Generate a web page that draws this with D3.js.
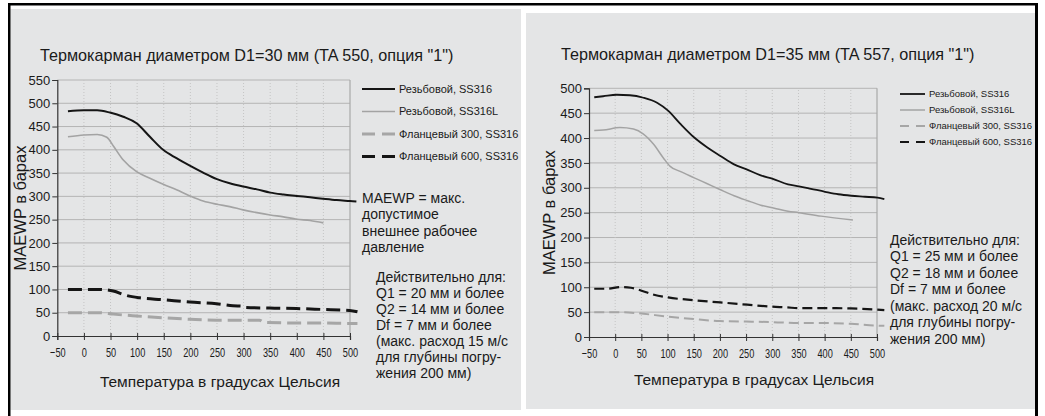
<!DOCTYPE html>
<html>
<head>
<meta charset="utf-8">
<script src="https://cdn.jsdelivr.net/npm/d3@7"></script>
<style>
  body { margin: 0; background: #fff; }
  svg { display: block; font-family: "Liberation Sans", Arial, sans-serif; }
  text { fill: #1a1a1a; }
</style>
</head>
<body>
<svg id="chart" width="1045" height="416"></svg>
<script>
// temperature ticks, same for both charts
const xTicks = [-50, 0, 50, 100, 150, 200, 250, 300, 350, 400, 450, 500];
const yTicksLeft = [0, 50, 100, 150, 200, 250, 300, 350, 400, 450, 500, 550];
const yTicksRight = [0, 50, 100, 150, 200, 250, 300, 350, 400, 450, 500];

const seriesNames = ["Резьбовой, SS316", "Резьбовой, SS316L", "Фланцевый 300, SS316", "Фланцевый 600, SS316"];

// D1 = 30 mm, [temperature, MAEWP]
const left316 = [[-30, 483], [0, 485], [25, 485], [49, 480], [74, 471], [99, 457], [124, 428], [149, 400],
  [174, 382], [199, 366], [224, 351], [250, 337], [274, 328], [299, 321], [325, 315], [350, 308],
  [375, 304], [400, 301], [425, 298], [449, 295], [475, 292], [500, 290], [512, 289]];
const left316L = [[-30, 428], [0, 432], [25, 433], [43, 427], [56, 407], [74, 378], [99, 353], [124, 339],
  [149, 326], [174, 314], [199, 301], [224, 290], [250, 283], [274, 278], [299, 271], [325, 265],
  [350, 260], [375, 256], [400, 251], [425, 248], [450, 243]];
const leftFl300 = [[-30, 50], [30, 50], [55, 47], [99, 43], [149, 39], [199, 36], [249, 34], [330, 34],
  [339, 29], [399, 28], [449, 28], [499, 27], [514, 27]];
const leftFl600 = [[-30, 100], [30, 100], [55, 96.5], [80, 87], [105, 82], [149, 78], [199, 73], [249, 69.5],
  [280, 65], [299, 64], [305, 61], [349, 60], [399, 59], [449, 57], [499, 55], [514, 52]];

// D1 = 35 mm
const right316 = [[-40, 482], [-23, 484], [3, 487], [28, 486], [54, 481], [80, 471], [101, 455], [124, 429],
  [151, 401], [176, 381], [201, 364], [227, 347], [251, 337], [278, 325], [301, 318], [330, 307],
  [351, 303], [374, 298], [401, 292], [426, 287], [451, 284], [477, 282], [501, 280], [514, 277]];
const right316L = [[-40, 415], [-23, 416], [9, 421], [35, 418], [54, 408], [73, 388], [92, 360], [105, 343],
  [124, 333], [151, 320], [176, 308], [201, 296], [227, 284], [253, 274], [278, 265], [304, 259],
  [330, 253], [351, 250], [393, 243], [454, 235]];
const rightFl300 = [[-40, 50], [10, 50], [42, 48], [100, 41], [150, 36], [200, 32], [250, 31], [300, 30],
  [350, 28], [400, 28], [450, 26.5], [500, 23], [514, 22.5]];
const rightFl600 = [[-40, 97], [-15, 97], [10, 100.5], [30, 99], [42, 96], [74, 85], [101, 79.5], [150, 74],
  [201, 69.5], [252, 65], [300, 61], [329, 59.5], [350, 58], [400, 58], [450, 57.5], [500, 55], [514, 54]];

const leftNotes = ["MAEWP = макс.", "допустимое", "внешнее рабочее", "давление"];
const leftValid = ["Действительно для:", "Q1 = 20 мм и более", "Q2 = 14 мм и более", "Df = 7 мм и более",
  "(макс. расход 15 м/с", "для глубины погру-", "жения 200 мм)"];
const rightValid = ["Действительно для:", "Q1 = 25 мм и более", "Q2 = 18 мм и более", "Df = 7 мм и более",
  "(макс. расход 20 м/с", "для глубины погру-", "жения 200 мм)"];

const svg = d3.select("#chart");

// frame and panel backgrounds
svg.append("rect").attr("x", 10.5).attr("y", 9).attr("width", 510.5).attr("height", 401).attr("fill", "#e4e5e6");
svg.append("rect").attr("x", 526).attr("y", 13).attr("width", 509).attr("height", 396).attr("fill", "#e4e5e6");
svg.append("rect").attr("x", 8).attr("y", 3).attr("width", 1030).attr("height", 2.5).attr("fill", "#000");
svg.append("rect").attr("x", 8).attr("y", 3).attr("width", 2.5).attr("height", 413).attr("fill", "#000");
svg.append("rect").attr("x", 1035).attr("y", 3).attr("width", 3).attr("height", 413).attr("fill", "#000");

const drawPanel = function (p) {
    const g = svg.append("g");
    const x = d3.scaleLinear([-50, 500], [p.x0, p.x1]);
    const y = d3.scaleLinear([0, p.yMax], [p.y0, p.y1]);

    // grid
    g.selectAll("line.hgrid").data(p.yTicks.filter(d => d > 0)).enter().append("line")
        .attr("x1", p.x0).attr("x2", p.x1)
        .attr("y1", d => y(d)).attr("y2", d => y(d))
        .attr("stroke", "#b4b4b4").attr("stroke-width", 1);
    g.selectAll("line.vgrid").data(xTicks.slice(1, -1)).enter().append("line")
        .attr("x1", d => x(d)).attr("x2", d => x(d))
        .attr("y1", p.y0).attr("y2", p.y1)
        .attr("stroke", "#c4c4c4").attr("stroke-width", 1).attr("stroke-dasharray", "1,2");
    g.append("line").attr("x1", p.x1).attr("x2", p.x1).attr("y1", p.y0).attr("y2", p.y1)
        .attr("stroke", "#a8a8a8").attr("stroke-width", 1.2);

    // axes
    const xAxis = g.append("g")
        .attr("transform", "translate(0," + p.y0 + ")")
        .call(d3.axisBottom(x).tickValues(xTicks).tickSize(4).tickPadding(7));
    xAxis.selectAll(".tick line").attr("y1", -3);
    xAxis.selectAll("text").attr("font-size", 13.5).attr("transform", "scale(0.68,1)");

    const yAxis = g.append("g")
        .attr("transform", "translate(" + p.x0 + ",0)")
        .call(d3.axisLeft(y).tickValues(p.yTicks).tickSize(5).tickPadding(2));
    yAxis.selectAll("text").attr("font-size", 13);

    g.selectAll(".domain").attr("stroke", "#333").attr("stroke-width", 1.2);
    g.selectAll(".tick line").attr("stroke", "#333");
    g.selectAll(".tick text").attr("fill", "#1a1a1a").style("font-family", "Liberation Sans, Arial, sans-serif");

    // series
    const line = d3.line().curve(d3.curveMonotoneX).x(d => x(d[0])).y(d => y(d[1]));
    p.series.forEach(function (s, i) {
        g.append("path").datum(s)
            .attr("d", line)
            .attr("fill", "none")
            .attr("stroke", p.styles[i].color)
            .attr("stroke-width", p.styles[i].width)
            .attr("stroke-dasharray", p.styles[i].dash);
    });

    // legend
    seriesNames.forEach(function (name, i) {
        const ly = p.legend.y + i * p.legend.step;
        g.append("line")
            .attr("x1", p.legend.x).attr("x2", p.legend.x + p.legend.len)
            .attr("y1", ly).attr("y2", ly)
            .attr("stroke", p.styles[i].color)
            .attr("stroke-width", p.styles[i].width)
            .attr("stroke-dasharray", p.styles[i].legendDash);
        g.append("text")
            .attr("x", p.legend.x + p.legend.len + 4).attr("y", ly)
            .attr("dy", "0.35em")
            .attr("font-size", p.legend.size)
            .text(name);
    });

    // titles
    g.append("text").attr("x", p.titleX).attr("y", p.titleY).attr("font-size", 16.2).text(p.title);
    g.append("text")
        .attr("transform", "translate(" + p.yTitleX + "," + ((p.y0 + p.y1) / 2) + ") rotate(-90)")
        .attr("text-anchor", "middle").attr("dy", "0.35em")
        .attr("font-size", 16.5).text("MAEWP в барах");
    g.append("text")
        .attr("x", p.xTitleX).attr("y", p.xTitleY)
        .attr("text-anchor", "middle").attr("font-size", 15.5)
        .text("Температура в градусах Цельсия");

    p.notes.forEach(function (n) {
        n.lines.forEach(function (t, i) {
            g.append("text")
                .attr("x", n.x).attr("y", n.y + i * n.step)
                .attr("dy", "0.35em").attr("font-size", 14)
                .text(t);
        });
    });
};

const leftStyles = [
    {color: "#151515", width: 2, dash: null, legendDash: null},
    {color: "#a3a3a3", width: 1.6, dash: null, legendDash: null},
    {color: "#a6a6a6", width: 3, dash: "14,6", legendDash: "13,7"},
    {color: "#151515", width: 3, dash: "14,6", legendDash: "13,7"}
];
const rightStyles = [
    {color: "#151515", width: 1.8, dash: null, legendDash: null},
    {color: "#a3a3a3", width: 1.5, dash: null, legendDash: null},
    {color: "#a6a6a6", width: 2, dash: "10,5", legendDash: "9,7"},
    {color: "#151515", width: 2.2, dash: "10,5", legendDash: "9,7"}
];

drawPanel({
    x0: 57.3, x1: 350, y0: 336, y1: 80, yMax: 550, yTicks: yTicksLeft,
    series: [left316, left316L, leftFl300, leftFl600], styles: leftStyles,
    legend: {x: 362, y: 89, step: 22.5, len: 33, size: 11},
    title: "Термокарман диаметром D1=30 мм (TA 550, опция \"1\")", titleX: 40, titleY: 61,
    yTitleX: 20, xTitleX: 220, xTitleY: 387,
    notes: [{x: 362, y: 198, step: 16.5, lines: leftNotes}, {x: 376, y: 277, step: 16, lines: leftValid}]
});

drawPanel({
    x0: 589, x1: 877, y0: 337, y1: 88.3, yMax: 500, yTicks: yTicksRight,
    series: [right316, right316L, rightFl300, rightFl600], styles: rightStyles,
    legend: {x: 900, y: 94, step: 16, len: 25, size: 9.5},
    title: "Термокарман диаметром D1=35 мм (TA 557, опция \"1\")", titleX: 561, titleY: 60,
    yTitleX: 549, xTitleX: 754, xTitleY: 385,
    notes: [{x: 890, y: 240, step: 16.5, lines: rightValid}]
});
</script>
</body>
</html>
